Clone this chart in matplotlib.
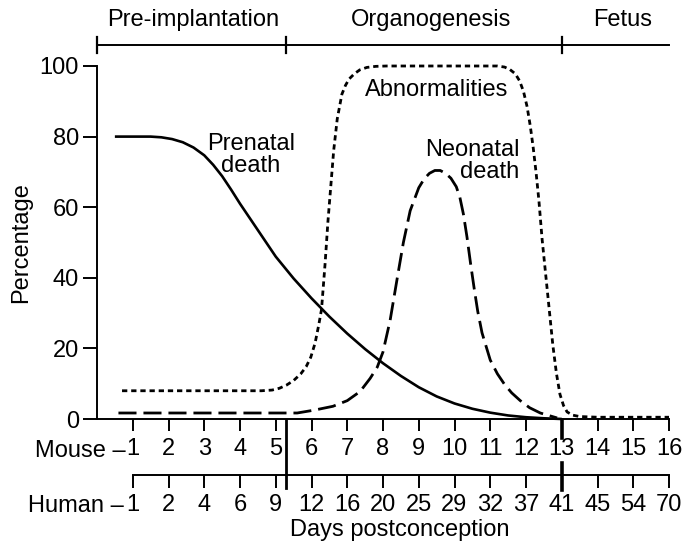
import numpy as np
from matplotlib import pyplot as plt
import matplotlib.transforms as mtransforms

plt.rcParams['font.family'] = ['Liberation Sans', 'DejaVu Sans']
plt.rcParams['font.size'] = 17
plt.rcParams['lines.scale_dashes'] = False

# mouse days (x axis) and matching human days
mouse_days = [1, 2, 3, 4, 5, 6, 7, 8, 9, 10, 11, 12, 13, 14, 15, 16]
human_days = [1, 2, 4, 6, 9, 12, 16, 20, 25, 29, 32, 37, 41, 45, 54, 70]

# phases (in mouse days)
phase_edges = [0, 5.3, 13, 16]
phase_names = ["Pre-implantation", "Organogenesis", "Fetus"]
phase_label_x = [2.7, 9.35, 14.7]

# prenatal death (solid)
prenatal_x = [0.5, 1.0, 1.5, 1.8, 2.1, 2.4, 2.7, 3.0, 3.25, 3.5, 3.75, 4.0, 4.5, 5.0,
              5.5, 6.0, 6.5, 7.0, 7.5, 8.0, 8.5, 9.0, 9.5, 10.0, 10.5, 11.0, 11.5,
              12.0, 12.5, 13.0]
prenatal_y = [80, 80, 80, 79.8, 79.3, 78.4, 76.9, 74.7, 72.0, 68.8, 65.0, 61, 53.5, 46,
              39.8, 34.2, 29, 24.2, 19.8, 15.8, 12.2, 9.0, 6.4, 4.4, 2.9, 1.8, 1.0,
              0.5, 0.2, 0]

# abnormalities (dotted)
abnorm_x = [0.7, 2, 3, 4, 4.6, 4.9, 5.1, 5.3, 5.5, 5.7, 5.85, 5.98, 6.1, 6.2, 6.28,
            6.38, 6.46, 6.54, 6.62, 6.72, 6.85, 6.95, 7.05, 7.2, 7.35, 7.55, 7.8, 8.1,
            11.2, 11.4, 11.55, 11.7, 11.82, 11.93, 12.03, 12.12, 12.2, 12.28, 12.36,
            12.45, 12.55, 12.65, 12.75, 12.85, 12.95, 13.05, 13.15, 13.3, 13.5, 14, 15, 16]
abnorm_y = [8, 8, 8, 8, 8, 8.2, 8.7, 9.6, 10.9, 12.8, 14.8, 17.5, 21.5, 26.5, 31,
            44, 56, 66, 76, 85, 92, 94.5, 96.3, 97.8, 98.9, 99.6, 99.9, 100,
            100, 99.7, 99, 97.8, 95.8, 92.8, 88.5, 83, 77, 70, 62,
            51, 41, 31, 21, 13, 7, 3.8, 2.0, 1.1, 0.7, 0.5, 0.5, 0.5]

# neonatal death (dashed)
neonatal_x = [0.6, 2, 4, 5.6, 6.07, 6.6, 7.0, 7.36, 7.64, 7.84, 8.0, 8.2, 8.4, 8.57,
              8.76, 9.0, 9.15, 9.3, 9.45, 9.6, 9.75, 9.9, 10.05, 10.15, 10.25, 10.35,
              10.45, 10.55, 10.65, 10.77, 11.0, 11.2, 11.4, 11.6, 11.84, 12.1, 12.4, 12.87]
neonatal_y = [1.7, 1.7, 1.7, 1.7, 2.5, 3.6, 5.2, 7.8, 11.5, 14.7, 19, 28, 40, 50,
              59, 65.5, 68, 69.6, 70.4, 70.4, 69.6, 68.2, 65.8, 62.8, 58, 51.5,
              44, 37, 30.5, 24.4, 16.7, 12.8, 9.8, 7.4, 5.2, 3.2, 1.7, 0.3]

W, H = 684, 546
fig = plt.figure(figsize=(W / 100, H / 100), dpi=100)
ax = fig.add_axes([97 / W, 1 - 419 / H, 572 / W, 353 / H])

def fy(py):
    return 1 - py / H

ax.plot(prenatal_x, prenatal_y, color='black', lw=1.9, solid_capstyle='butt', clip_on=False)
ax.plot(abnorm_x, abnorm_y, color='black', lw=2.0, linestyle=(0, (3.8, 2.8)), clip_on=False)
ax.plot(neonatal_x, neonatal_y, color='black', lw=2.0, linestyle=(0, (13, 5)), clip_on=False)

ax.text(4.31, 74.8, "Prenatal\ndeath", ha='center', va='center', linespacing=1.0)
ax.text(9.49, 93.2, "Abnormalities", ha='center', va='center')
ax.text(11.81, 73.1, "Neonatal\ndeath", ha='right', va='center', multialignment='right',
        linespacing=1.0)

ax.set_xlim(0, 16)
ax.set_ylim(0, 100)
ax.spines['top'].set_visible(False)
ax.spines['right'].set_visible(False)
ax.spines['left'].set_linewidth(1.4)
ax.spines['bottom'].set_linewidth(1.4)
ax.set_yticks([0, 20, 40, 60, 80, 100])
ax.set_xticks(mouse_days)
ax.set_xticklabels([str(d) for d in mouse_days])
ax.tick_params(axis='y', direction='out', length=10, width=1.4, pad=3, labelsize=17)
ax.tick_params(axis='x', direction='out', length=8.5, width=1.4, pad=5.5, labelsize=17)
ax.set_ylabel("Percentage", fontsize=17, labelpad=5)

# human axis
ax2 = fig.add_axes([97 / W, 1 - 475 / H, 572 / W, 0.0001])
ax2.set_xlim(0, 16)
ax2.set_yticks([])
for s in ['top', 'left', 'right']:
    ax2.spines[s].set_visible(False)
ax2.spines['bottom'].set_bounds(1, 16)
ax2.spines['bottom'].set_linewidth(1.4)
ax2.set_xticks(mouse_days)
ax2.set_xticklabels([str(d) for d in human_days])
ax2.tick_params(axis='x', direction='out', length=9.5, width=1.4, pad=4.5, labelsize=17)
ax2.patch.set_visible(False)

trans = mtransforms.blended_transform_factory(ax.transData, fig.transFigure)
fig.add_artist(plt.Line2D([5.3, 5.3], [fy(420), fy(488)], transform=trans, color='black', lw=2.0))
fig.add_artist(plt.Line2D([13, 13], [fy(420), fy(438)], transform=trans, color='black', lw=2.6))
fig.add_artist(plt.Line2D([13, 13], [fy(463), fy(490)], transform=trans, color='black', lw=2.6))

fig.text(126 / W, fy(451), "Mouse \u2013", ha='right', va='center', fontsize=17)
fig.text(124 / W, fy(506), "Human \u2013", ha='right', va='center', fontsize=17)
fig.text(400 / W, fy(530), "Days postconception", ha='center', va='center', fontsize=17)

# phase bar on top
fig.add_artist(plt.Line2D([phase_edges[0], phase_edges[-1]], [fy(45), fy(45)], transform=trans,
                          color='black', lw=1.4))
for e in phase_edges[:-1]:
    fig.add_artist(plt.Line2D([e, e], [fy(37), fy(53)], transform=trans, color='black', lw=1.6))
for name, px in zip(phase_names, phase_label_x):
    fig.text(px, fy(20), name, transform=trans, ha='center', va='center', fontsize=17)

plt.savefig('out.png', dpi=100)
